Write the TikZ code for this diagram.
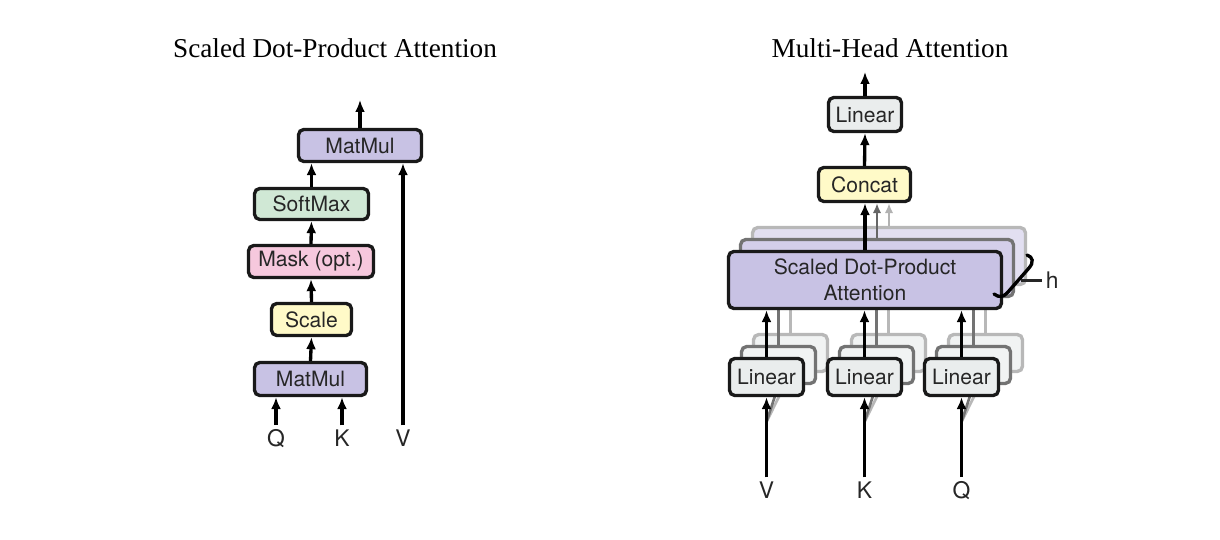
\documentclass[tikz,border=0pt]{standalone}
\usepackage{fontspec}
\setmainfont{Liberation Serif}
\setsansfont{TeX Gyre Heros}
\usetikzlibrary{arrows.meta}
\definecolor{mmpurple}{RGB}{200,194,228}
\definecolor{mmpurplea}{RGB}{212,207,234}
\definecolor{mmpurpleb}{RGB}{226,223,241}
\definecolor{smgreen}{RGB}{208,232,213}
\definecolor{mkpink}{RGB}{246,200,221}
\definecolor{scyellow}{RGB}{255,250,200}
\definecolor{lngray}{RGB}{234,237,237}
\definecolor{lngraya}{RGB}{241,243,243}

\begin{document}
\begin{tikzpicture}[x=0.02cm, y=-0.02cm,
	box/.style={draw=black!90, line width=1.9pt, rounded corners=3pt, inner sep=0pt,
		font=\sffamily\fontsize{12}{14.7}\selectfont, text=black!85, align=center},
	boxa/.style={box, draw=black!55},
	boxb/.style={box, draw=black!28},
	arr/.style={-{Latex[length=0.24cm,width=0.2cm]}, line width=1.9pt},
	arra/.style={-{Latex[length=0.2cm,width=0.17cm]}, line width=1.5pt, black!60},
	arrb/.style={-{Latex[length=0.2cm,width=0.17cm]}, line width=1.5pt, black!30},
	lbl/.style={font=\sffamily\fontsize{13}{15}\selectfont, inner sep=2pt, text=black!85},
	title/.style={font=\fontsize{15.5}{18}\selectfont}]
	\useasboundingbox (0,0) rectangle (1220,540);

	\node[title, anchor=base] (t1) at (335,58) {Scaled Dot-Product Attention};
	\node[title, anchor=base] (t2) at (890,58) {Multi-Head Attention};

	\node[box, fill=mmpurple, minimum width=2.46cm, minimum height=0.64cm] (mm2) at (360,145.5) {MatMul};
	\node[box, fill=smgreen, minimum width=2.28cm, minimum height=0.62cm] (sm) at (311.5,204) {SoftMax};
	\node[box, fill=mkpink, minimum width=2.5cm, minimum height=0.64cm] (mask) at (311,261.5) {Mask (opt.)};
	\node[box, fill=scyellow, minimum width=1.6cm, minimum height=0.64cm] (scale) at (311.5,319.5) {Scale};
	\node[box, fill=mmpurple, minimum width=2.24cm, minimum height=0.66cm] (mm1) at (310.5,379) {MatMul};
	\node[lbl, anchor=base] (q) at (276,446) {Q};
	\node[lbl, anchor=base] (k) at (342,446) {K};
	\node[lbl, anchor=base] (v) at (403,446) {V};
	\coordinate (out1) at (360,100);

	\draw[arr] (mm2.north) -- (out1);
	\draw[arr] (sm.north) -- (sm.north |- mm2.south);
	\draw[arr] (mask.north) -- (sm.south);
	\draw[arr] (scale.north) -- (mask.south);
	\draw[arr] (mm1.north) -- (scale.south);
	\draw[arr] (q.north) -- (q.north |- mm1.south);
	\draw[arr] (k.north) -- (k.north |- mm1.south);
	\draw[arr] (v.north) -- (v.north |- mm2.south);

	\node[box, fill=lngray, minimum width=1.46cm, minimum height=0.68cm] (linout) at (865,114.5) {Linear};
	\node[box, fill=scyellow, minimum width=1.84cm, minimum height=0.68cm] (concat) at (864.5,184.5) {Concat};
	\coordinate (out2) at (865,72);
	\draw[arr] (linout.north) -- (out2);
	\draw[arr] (concat.north) -- (linout.south);

	\node[boxb, fill=mmpurpleb, minimum width=5.46cm, minimum height=1.14cm] (sdpab) at (889,256) {};
	\node[boxa, fill=mmpurplea, minimum width=5.46cm, minimum height=1.14cm] (sdpaa) at (877,268) {};
	\draw[arrb] (sdpab.north) -- (sdpab.north |- concat.south);
	\draw[arra] (sdpaa.north) -- (sdpaa.north |- concat.south);

	\foreach \x/\n/\t in {766.5/v/V, 864.5/k/K, 961.5/q/Q} {
		\node[boxb, fill=lngraya, minimum width=1.48cm, minimum height=0.74cm] (lin\n b) at (\x+24,353) {};
		\node[boxa, fill=lngraya, minimum width=1.48cm, minimum height=0.74cm] (lin\n a) at (\x+12,365) {};
		\node[lbl, anchor=base] (in\n) at (\x,498) {\t};
		\coordinate (fan\n) at (\x,422);
		\draw[line width=1.5pt, black!28] (lin\n b.north) -- (lin\n b.north |- sdpab.south);
		\draw[line width=1.5pt, black!55] (lin\n a.north) -- (lin\n a.north |- sdpaa.south);
		\draw[line width=1.5pt, black!28] (fan\n) -- (lin\n b.south);
		\draw[line width=1.5pt, black!55] (fan\n) -- (lin\n a.south);
		\node[box, fill=lngray, minimum width=1.48cm, minimum height=0.74cm] (lin\n) at (\x,377) {Linear};
		\draw[arr] (in\n.north) -- (lin\n.south);
	}

	\node[box, fill=mmpurple, minimum width=5.46cm, minimum height=1.14cm] (sdpa) at (865,280) {Scaled Dot-Product\\Attention};
	\draw[arr] (sdpa.north) -- (sdpa.north |- concat.south);
	\foreach \n in {v,k,q}
		\draw[arr] (lin\n.north) -- (lin\n.north |- sdpa.south);

	\draw[line width=1.9pt, line cap=round] (1027,255) .. controls (1033,257) and (1034,262) .. (1029,268)
		-- (1008,292) .. controls (1004,297) and (999,298) .. (994,294);
	\node[lbl, anchor=west] (h) at (1042,280.5) {h};
	\coordinate (hb) at (1021,280.5);
	\draw[line width=1.2pt, black!85] (hb) -- (h.west);
\end{tikzpicture}
\end{document}
